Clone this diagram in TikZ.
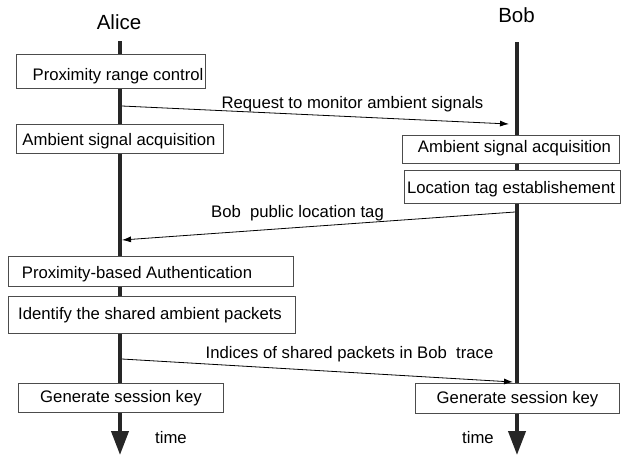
\documentclass[tikz,border=0pt]{standalone}
\usepackage{fontspec}
\setmainfont{Liberation Sans}
\usetikzlibrary{arrows.meta}

\tikzset{
  actor/.style={font=\fontsize{20.5}{24}\selectfont, inner sep=0pt, anchor=base},
  stepbox/.style={draw=black!70, fill=white, line width=0.9pt, inner sep=0pt},
  steptext/.style={font=\fontsize{16.7}{20}\selectfont, inner sep=0pt, anchor=base},
  msg/.style={line width=0.8pt, -{Latex[length=9pt,width=6pt]}},
  lifeline/.style={line width=4pt, black!85, -{Triangle[length=24pt,width=17pt]}},
}

\begin{document}
\begin{tikzpicture}[x=1pt,y=-1pt]
\useasboundingbox (0,0) rectangle (644,459);

% the two parties
\node[actor] (alice) at (119,29) {Alice};
\node[actor] (bob) at (516.5,22) {Bob};

% time runs downwards
\coordinate (aliceTop) at (120,41);
\coordinate (aliceEnd) at (120,455);
\coordinate (bobTop) at (517,42);
\coordinate (bobEnd) at (517,455);
\draw[lifeline] (aliceTop) -- (aliceEnd);
\draw[lifeline] (bobTop) -- (bobEnd);

% Alice side
\node[stepbox, minimum width=189, minimum height=34] (aRange) at (111,71) {};
\node[stepbox, minimum width=207, minimum height=29] (aAcq) at (119.5,138.5) {};
\node[stepbox, minimum width=285, minimum height=30] (aAuth) at (150.5,271) {};
\node[stepbox, minimum width=287, minimum height=37] (aIdent) at (151.5,314.5) {};
\node[stepbox, minimum width=205, minimum height=29] (aKey) at (120.5,397.5) {};

\node[steptext] (aRangeT) at (118,80) {Proximity range control};
\node[steptext] (aAcqT) at (119,145) {Ambient signal acquisition};
\node[steptext] (aAuthT) at (137,278) {Proximity-based Authentication};
\node[steptext] (aIdentT) at (150,319) {Identify the shared ambient packets};
\node[steptext] (aKeyT) at (121,402) {Generate session key};

% Bob side
\node[stepbox, minimum width=217, minimum height=28] (bAcq) at (510.5,149) {};
\node[stepbox, minimum width=216, minimum height=33] (bTag) at (512,186.5) {};
\node[stepbox, minimum width=204, minimum height=30] (bKey) at (517,398) {};

\node[steptext] (bAcqT) at (514.5,152) {Ambient signal acquisition};
\node[steptext] (bTagT) at (511,193) {Location tag establishement};
\node[steptext] (bKeyT) at (517.5,403) {Generate session key};

% messages
\coordinate (m1s) at (122,106);
\coordinate (m1e) at (509,124);
\coordinate (m2s) at (515,212);
\coordinate (m2e) at (122,240);
\coordinate (m3s) at (122,359);
\coordinate (m3e) at (513,382);
\draw[msg] (m1s) -- (m1e);
\draw[msg] (m2s) -- (m2e);
\draw[msg] (m3s) -- (m3e);

\node[steptext] (m1) at (352.5,108) {Request to monitor ambient signals};
\node[steptext] (m2) at (297.5,217) {Bob~ public location tag};
\node[steptext] (m3) at (349.5,358) {Indices of shared packets in Bob~ trace};

\node[steptext] (aTime) at (171,443) {time};
\node[steptext] (bTime) at (478,443) {time};

\end{tikzpicture}
\end{document}
